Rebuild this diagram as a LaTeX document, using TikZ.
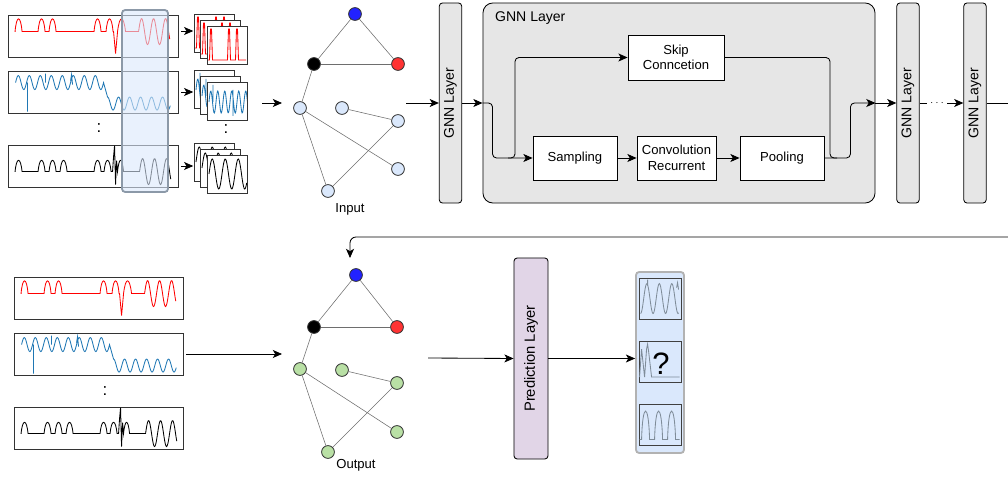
\documentclass[tikz,border=0pt]{standalone}
\usepackage{fontspec}
\setmainfont{Liberation Sans}
\usepackage{tikz}
\usetikzlibrary{arrows.meta, calc, positioning}
\definecolor{lblue}{HTML}{DAE8FC}
\definecolor{lgreen}{HTML}{B9E0A5}
\definecolor{lpurple}{HTML}{E1D5E7}
\definecolor{lgray}{HTML}{E6E6E6}
\definecolor{nblue}{HTML}{2222FF}
\definecolor{nred}{HTML}{FF3333}
\definecolor{sigblue}{HTML}{1F77B4}
\definecolor{winedge}{HTML}{8C99A8}
\definecolor{edgegray}{HTML}{6E6E6E}
\definecolor{outsig}{HTML}{7F8C99}
\tikzset{
    >={Stealth[length=0.23cm, width=0.2cm, inset=0.06cm]},
    vertex/.style = {circle, draw=black!80, inner sep=0pt, minimum size=0.32cm},
    layerbar/.style = {rectangle, rounded corners=0.08cm, draw, fill=lgray, font=\fontsize{10}{12}\selectfont,
                       minimum width=0.56cm, minimum height=5cm, inner sep=0pt},
    block/.style = {rectangle, draw, fill=white, align=center, minimum height=1.1cm, inner sep=1pt},
    sigbox/.style = {rectangle, draw=black!80, minimum width=4.25cm, minimum height=1.05cm},
    gedge/.style = {draw=edgegray, thin},
    miniout/.style = {rectangle, draw=black!75, minimum width=1.05cm, minimum height=1.025cm}
}
% signal curves, local px of a signal box
\newcommand{\redwave}{(8,17) \foreach \p in {11,34,45,90,102}{ -- (\p-3.5,17) .. controls (\p-2,0) and (\p+2,0) .. (\p+3.5,17)}
  -- (106,17) -- (108,39) -- (110,17) .. controls (112,0) and (116,0) .. (118,17) -- (131,17)
  -- plot[variable=\t, domain=0:2.6, samples=50, smooth] ({131+\t*12},{17-13*sin(\t*360)})}
\newcommand{\bluewave}{plot[variable=\t, domain=0:8, samples=161] ({8+\t*11},{12-7*sin(\t*360)})
  -- plot[variable=\t, domain=0:5.7, samples=115] ({100+\t*11},{33-6.5*cos(\t*360)})
  (20,12) -- (20,41) (38,12) -- (38,3) (63,10) -- (64,4) -- (65,14)}
\newcommand{\blackwave}{(8,27) \foreach \p in {11,34,45,56,90,100}{ -- (\p-3.5,27) .. controls (\p-2,12) and (\p+2,12) .. (\p+3.5,27)}
  -- (105,27) -- (106,12) -- (107,1) -- (108,40) -- (109,16) -- (110,27)
  .. controls (111.5,12) and (114.5,12) .. (116,27) -- (132,27)
  -- plot[variable=\t, domain=0:2.6, samples=50, smooth] ({132+\t*12},{27-13*sin(\t*360)})}
% small frames
\newcommand{\minipulse}{(1,34) \foreach \p in {4,22,30}{ -- (\p-1.5,34) -- (\p-0.5,3) -- (\p+0.5,3) -- (\p+1.5,34)} -- (39,34)}
\newcommand{\miniblue}{plot[variable=\t, domain=0:5.5, samples=80] ({2+\t*7},{20-11*sin(\t*360)}) (6,20) -- (6,3) (26,8) -- (26,34)}
\newcommand{\minisine}{plot[variable=\t, domain=0:2.9, samples=60, smooth] ({2+\t*13},{19-15*sin(\t*360)})}
\newcommand{\miniframe}[4]{%
  \fill[white] (#1,#2) rectangle ++(40,38);
  \begin{scope}[shift={(#1,#2)}]
    \clip (0,0) rectangle (40,38);
    \draw[#3] #4;
  \end{scope}
  \draw[black!80] (#1,#2) rectangle ++(40,38);}

\begin{document}
\begin{tikzpicture}[x=0.025cm, y=-0.025cm, semithick,
      font=\fontsize{9.3}{11}\selectfont]
    \useasboundingbox (0,0) rectangle (1008,478);

    % input series
    \node[sigbox] (s1) at (93,36) {};
    \node[sigbox] (s2) at (93,92) {};
    \node[sigbox] (s3) at (93,166) {};
    \node[font=\fontsize{12}{12}\selectfont] at (99,128) {:};
    \begin{scope}[shift={(s1.north west)}] \draw[red] \redwave; \end{scope}
    \begin{scope}[shift={(s2.north west)}] \draw[sigblue] \bluewave; \end{scope}
    \begin{scope}[shift={(s3.north west)}] \draw[black] \blackwave; \end{scope}
    \draw[draw=winedge, line width=1.3pt, fill=lblue, fill opacity=0.6,
          rounded corners=0.08cm] (122,10) rectangle (168,192);

    \draw[->] ([xshift=0.07cm, yshift=0.125cm]s1.east) -- ++(12,0);
    \draw[->] ([xshift=0.07cm]s2.east) -- ++(12,0);
    \draw[->] ([xshift=0.07cm]s3.east) -- ++(12,0);

    \miniframe{194}{14}{red}{\minipulse}
    \miniframe{200}{20}{red}{\minipulse}
    \miniframe{207}{26}{red}{\minipulse}
    \miniframe{194}{70}{sigblue}{\miniblue}
    \miniframe{200}{76}{sigblue}{\miniblue}
    \miniframe{207}{82}{sigblue}{\miniblue}
    \miniframe{194}{143}{black}{\minisine}
    \miniframe{200}{149}{black}{\minisine}
    \miniframe{207}{155}{black}{\minisine}
    \node[font=\fontsize{12}{12}\selectfont] at (226,129) {:};

    \coordinate (stk) at (262,103);
    \draw[->] (stk) -- ++(20,0);

    % input graph
    \node[vertex, fill=nblue] (i1) at (355,14) {};
    \node[vertex, fill=black] (i2) at (314,64) {};
    \node[vertex, fill=nred] (i3) at (398,64) {};
    \node[vertex, fill=lblue] (i4) at (300,108) {};
    \node[vertex, fill=lblue] (i5) at (342,108) {};
    \node[vertex, fill=lblue] (i6) at (398,121) {};
    \node[vertex, fill=lblue] (i7) at (398,169) {};
    \node[vertex, fill=lblue] (i8) at (328,191) {};
    \node at (350,209) {Input};

    \path[gedge] (i1) edge (i2) (i1) edge (i3) (i2) edge (i3) (i2) edge (i4)
                 (i4) edge (i7) (i4) edge (i8) (i5) edge (i6) (i6) edge (i8);

    % layers
    \node[layerbar] (gnn1) at (450.5,103) {\rotatebox{90}{GNN Layer}};
    \node[rectangle, rounded corners=0.25cm, draw, fill=lgray,
          minimum width=9.8cm, minimum height=5cm] (gnnbox) at (679,103) {};
    \node[anchor=west, font=\fontsize{10}{12}\selectfont] at (490,18) {GNN Layer};
    \node[block, minimum width=2.4cm, minimum height=1.125cm] (skip) at (676,57.5) {Skip\\Conncetion};
    \node[block, minimum width=2.1cm] (samp) at (575,158) {Sampling};
    \node[block, minimum width=1.975cm] (conv) at (676.5,158) {Convolution\\Recurrent};
    \node[block, minimum width=2.1cm] (pool) at (782,158) {Pooling};
    \node[layerbar] (gnn2) at (908,103) {\rotatebox{90}{GNN Layer}};
    \node[layerbar] (gnn3) at (975,103) {\rotatebox{90}{GNN Layer}};
    \node[inner sep=2pt, font=\scriptsize] (dots) at (937,103) {$\cdots$};

    \coordinate (gout) at (406,103);
    \coordinate (fork) at (515,158);
    \coordinate (join) at (830,158);
    \coordinate (edge1) at (1008,103);
    \coordinate (edge2) at (1008,237);
    \coordinate (down) at (350,258);

    \draw[->] (gout) -- (gnn1.west);
    \draw[->] (gnn1.east) -- (gnnbox.west);
    \draw[->, rounded corners=0.1cm] (gnnbox.west) -- ++(10,0) |- (samp.west);
    \draw[->, rounded corners=0.1cm] ($(fork)+(-7,0)$) -- (fork) |- (skip.west);
    \draw[->] (samp) -- (conv);
    \draw[->] (conv) -- (pool);
    \draw[rounded corners=0.1cm] (skip.east) -| (join) -- ++(7,0);
    \draw[->, rounded corners=0.1cm] (pool.east) -- ++(26,0) |- (gnnbox.east);
    \draw[->] (gnnbox.east) -- (gnn2.west);
    \draw (gnn2.east) -- (dots.west);
    \draw[->] (dots.east) -- (gnn3.west);
    \draw (gnn3.east) -- (edge1);
    \draw[->, rounded corners=0.15cm] (edge2) -| (down);

    % output series
    \node[sigbox, minimum width=4.225cm] (b1) at (98.5,298) {};
    \node[sigbox, minimum width=4.225cm] (b2) at (98.5,354) {};
    \node[sigbox, minimum width=4.225cm] (b3) at (98.5,428) {};
    \node[font=\fontsize{12}{12}\selectfont] at (105,391) {:};
    \begin{scope}[shift={(b1.north west)}] \draw[red] \redwave; \end{scope}
    \begin{scope}[shift={(b2.north west)}] \draw[sigblue] \bluewave; \end{scope}
    \begin{scope}[shift={(b3.north west)}] \draw[black] \blackwave; \end{scope}
    \coordinate (gin) at (282,354);
    \draw[->] ([xshift=0.07cm]b2.east) -- (gin);

    % output graph
    \node[vertex, fill=nblue] (o1) at (356,275) {};
    \node[vertex, fill=black] (o2) at (314,327) {};
    \node[vertex, fill=nred] (o3) at (397,327) {};
    \node[vertex, fill=lgreen] (o4) at (300,369) {};
    \node[vertex, fill=lgreen] (o5) at (342,370) {};
    \node[vertex, fill=lgreen] (o6) at (397,383) {};
    \node[vertex, fill=lgreen] (o7) at (397,432) {};
    \node[vertex, fill=lgreen] (o8) at (328,452) {};
    \node at (356,465) {Output};

    \path[gedge] (o1) edge (o2) (o1) edge (o3) (o2) edge (o3) (o2) edge (o4)
                 (o4) edge (o7) (o4) edge (o8) (o5) edge (o6) (o6) edge (o8);

    % prediction
    \node[layerbar, fill=lpurple, minimum width=0.85cm, minimum height=5.025cm,
          font=\fontsize{10.5}{12}\selectfont]
         (pred) at (531,358.5) {\rotatebox{90}{Prediction Layer}};
    \node[rectangle, rounded corners=0.08cm, draw=black!30, line width=1.3pt, fill=lblue,
          minimum width=1.2cm, minimum height=4.525cm] (outp) at (660,362.5) {};
    \node[miniout] (f1) at (660,298.5) {};
    \node[miniout] (f2) at (660,362) {};
    \node[miniout] (f3) at (660,424.5) {};
    \begin{scope}[shift={(f1.north west)}]
      \draw[outsig] plot[variable=\t, domain=0:3.05, samples=60, smooth] ({2+\t*12.5},{21+15*cos(\t*360)})
            (9,8) -- (9,2) (38,10) -- (39,5) -- (40,12);
    \end{scope}
    \begin{scope}[shift={(f2.north west)}]
      \draw[outsig] (1,36) -- (3,8) -- (6,36) -- (8,8) -- (9,3) -- (10,10) -- (13,36) -- (41,36);
    \end{scope}
    \begin{scope}[shift={(f3.north west)}]
      \draw[outsig] (1,36) \foreach \p in {7,20,33}{ -- (\p-4,36) .. controls (\p-3,-2) and (\p+3,-2) .. (\p+4,36)} -- (41,36);
    \end{scope}
    \node[font=\fontsize{22}{22}\selectfont] at (661,364) {?};

    \coordinate (pin) at (428,358);
    \draw[->] (pin) -- (pred.west);
    \draw[->] (pred.east) -- (pred.east -| outp.west);
\end{tikzpicture}
\end{document}
